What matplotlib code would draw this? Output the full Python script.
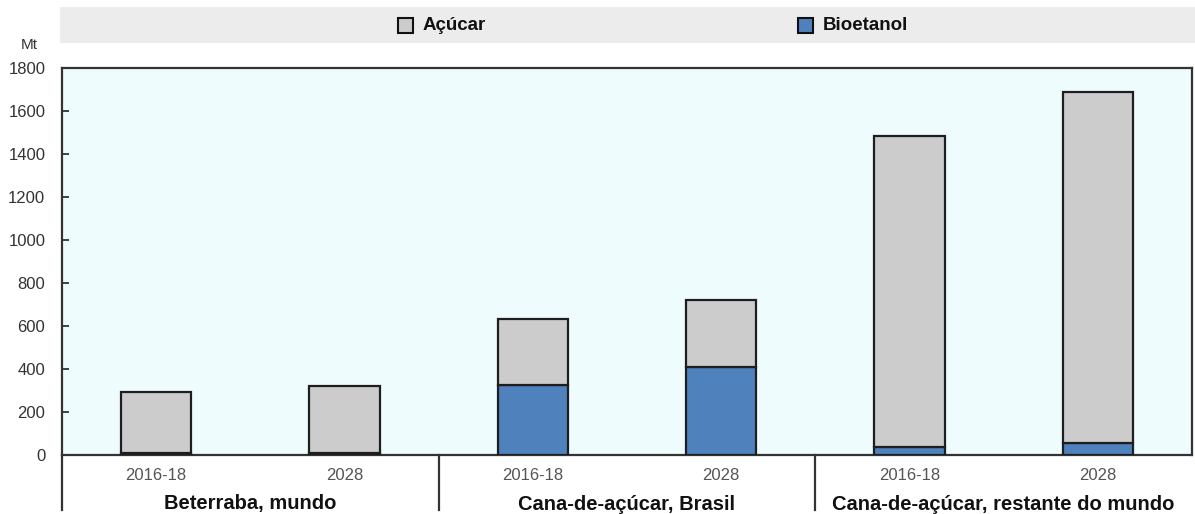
import matplotlib
matplotlib.use("Agg")
import matplotlib.pyplot as plt
from matplotlib.patches import Rectangle
from matplotlib.transforms import blended_transform_factory
import numpy as np

plt.rcParams['font.family'] = ['Liberation Sans', 'DejaVu Sans']

groups = ["Beterraba, mundo", "Cana-de-açúcar, Brasil", "Cana-de-açúcar, restante do mundo"]
periods = ["2016-18", "2028", "2016-18", "2028", "2016-18", "2028"]
bioetanol = [10, 8, 326, 409, 37, 56]
acucar = [283, 313, 306, 312, 1447, 1634]
yticks = [0, 200, 400, 600, 800, 1000, 1200, 1400, 1600, 1800]

col_acucar = "#cccccc"
col_bio = "#4f81bd"
edge = "#1e1e1e"

fig = plt.figure(figsize=(11.95, 5.14), dpi=100)
W, H = 1195, 514
ax = fig.add_axes([62 / W, 1 - 455 / H, 1130 / W, 387 / H])
ax.set_facecolor("#effcfe")

x = np.arange(len(periods))
ax.bar(x, bioetanol, width=0.375, color=col_bio, edgecolor=edge, linewidth=1.6, zorder=3)
ax.bar(x, acucar, width=0.375, bottom=bioetanol, color=col_acucar, edgecolor=edge,
       linewidth=1.6, zorder=3)

ax.set_xlim(-0.5, len(periods) - 0.5)
ax.set_ylim(0, 1800)
ax.set_yticks(yticks)
ax.set_yticklabels([str(v) for v in yticks], fontsize=12, color="#333333")
ax.tick_params(axis="y", direction="in", length=5, width=1.3, color="#333333", pad=12)
ax.set_xticks(x)
ax.set_xticklabels(periods, fontsize=12, color="#555555")
ax.tick_params(axis="x", length=0, pad=9)
for s in ax.spines.values():
    s.set_color("#333333")
    s.set_linewidth(1.6)

# Group separators and group labels below the axis
tr = blended_transform_factory(ax.transData, ax.transAxes)
drop = -55 / 387
for xs in [-0.5, 1.5, 3.5]:
    ax.plot([xs, xs], [0, drop], transform=tr, color="#333333", lw=1.6, clip_on=False)
for i, g in enumerate(groups):
    ax.text(2 * i + 0.5, -49 / 387, g, transform=tr, ha="center", va="center",
            fontsize=14.5, fontweight="bold", color="#111111")

# Unit label
fig.text(29 / W, 1 - 45 / H, "Mt", ha="center", va="center", fontsize=11,
         color="#333333")

# Legend band
fig.patches.append(Rectangle((60 / W, 1 - 43 / H), 1135 / W, 36 / H, transform=fig.transFigure,
                             facecolor="#ececec", edgecolor="none", zorder=0))
for xl, label, col in [(398, "Açúcar", col_acucar), (798, "Bioetanol", col_bio)]:
    fig.patches.append(Rectangle((xl / W, 1 - 33 / H), 15 / W, 15 / H, transform=fig.transFigure,
                                 facecolor=col, edgecolor="#111111", linewidth=1.5, zorder=2))
    fig.text((xl + 25) / W, 1 - 25 / H, label, ha="left", va="center", fontsize=13.5,
             fontweight="bold", color="#111111")

fig.savefig("out.png", dpi=100)
